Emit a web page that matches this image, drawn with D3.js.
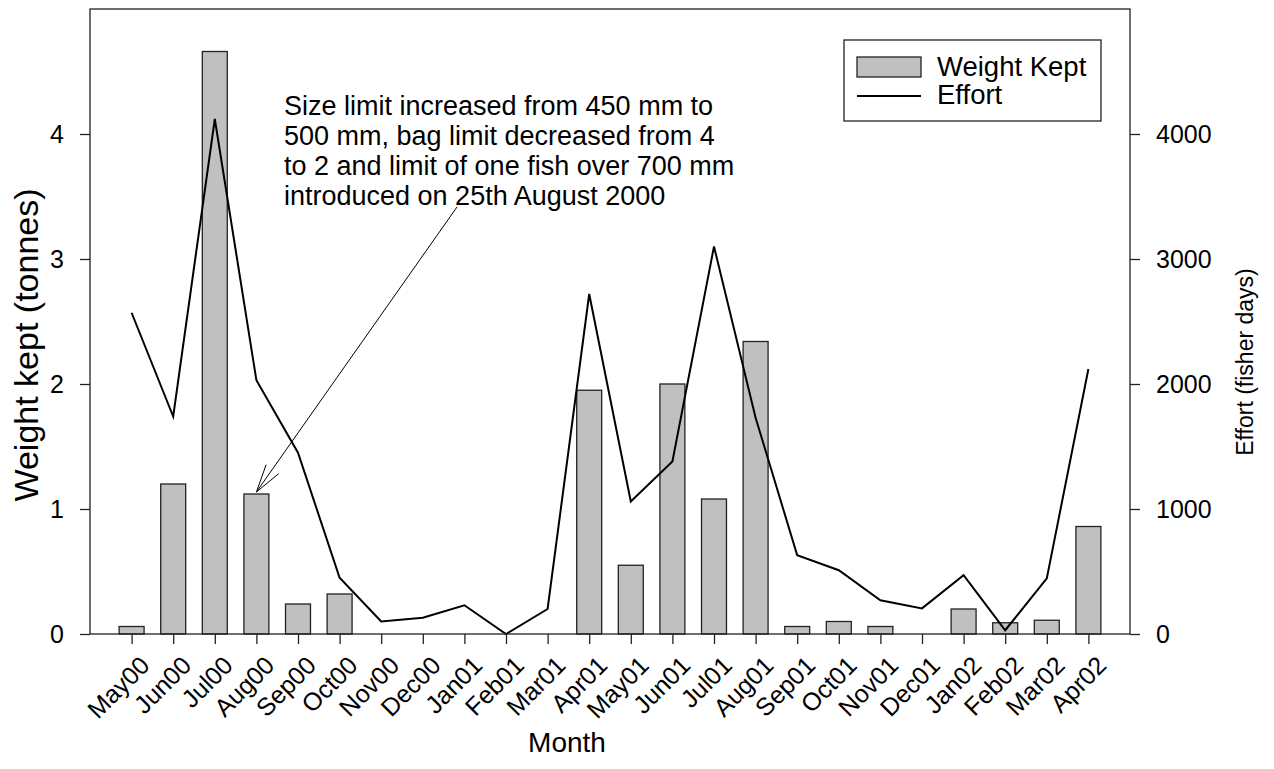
<!DOCTYPE html>
<html>
<head>
<meta charset="utf-8">
<script src="https://cdn.jsdelivr.net/npm/d3@7"></script>
<style>
  html, body { margin: 0; padding: 0; background: #fff; }
  svg { display: block; font-family: "Liberation Sans", Arial, sans-serif; }
</style>
</head>
<body>
<svg id="chart" width="1274" height="769"></svg>
<script>
// Monthly recreational catch and effort, May 2000 – April 2002
const months = ["May00","Jun00","Jul00","Aug00","Sep00","Oct00","Nov00","Dec00","Jan01","Feb01","Mar01","Apr01",
                "May01","Jun01","Jul01","Aug01","Sep01","Oct01","Nov01","Dec01","Jan02","Feb02","Mar02","Apr02"];
// Weight kept (tonnes)
const weightKept = [0.06,1.20,4.66,1.12,0.24,0.32,0,0,0,0,0,1.95,
                    0.55,2.00,1.08,2.34,0.06,0.10,0.06,0,0.20,0.09,0.11,0.86];
// Effort (fisher days)
const effort = [2570,1740,4120,2030,1450,450,100,130,230,0,200,2720,
                1060,1380,3100,1730,630,510,270,205,470,30,445,2120];
const weightTicks = [0,1,2,3,4];
const effortTicks = [0,1000,2000,3000,4000];

const annotationLines = [
  "Size limit increased from 450 mm to",
  "500 mm, bag limit decreased from 4",
  "to 2 and limit of one fish over 700 mm",
  "introduced on 25th August 2000"
];
const annotatedMonth = "Aug00";

const svg = d3.select("#chart");
const plotL = 90, plotR = 1130, plotT = 9, plotB = 634;

const x = d3.scalePoint().domain(months).range([plotL, plotR]).padding(1);
const yW = d3.scaleLinear().domain([0, 5]).range([plotB, plotT]);
const yE = d3.scaleLinear().domain([0, 5000]).range([plotB, plotT]);
const barW = x.step() * 0.6;

// bars
svg.append("g").selectAll("rect")
  .data(months.map((m, i) => ({ m, v: weightKept[i] })).filter(d => d.v > 0))
  .join("rect")
  .attr("x", d => x(d.m) - barW / 2)
  .attr("y", d => yW(d.v))
  .attr("width", barW)
  .attr("height", d => yW(0) - yW(d.v))
  .attr("fill", "#c0c0c0")
  .attr("stroke", "#222")
  .attr("stroke-width", 1.3);

// effort line
svg.append("path")
  .datum(months.map((m, i) => [x(m), yE(effort[i])]))
  .attr("d", d3.line())
  .attr("fill", "none")
  .attr("stroke", "#000")
  .attr("stroke-width", 2);

// frame
svg.append("rect")
  .attr("x", plotL).attr("y", plotT)
  .attr("width", plotR - plotL).attr("height", plotB - plotT)
  .attr("fill", "none").attr("stroke", "#222").attr("stroke-width", 1.3);

// axes
const axisStyle = g => {
  g.select(".domain").remove();
  g.selectAll(".tick line").attr("stroke", "#222").attr("stroke-width", 1.3);
  g.selectAll(".tick text").attr("fill", "#000").style("font-family", "Liberation Sans, Arial, sans-serif");
};

svg.append("g")
  .attr("transform", `translate(${plotL},0)`)
  .call(d3.axisLeft(yW).tickValues(weightTicks).tickFormat(d3.format("d")).tickSize(10).tickPadding(16))
  .call(axisStyle)
  .selectAll(".tick text").style("font-size", "25px");

svg.append("g")
  .attr("transform", `translate(${plotR},0)`)
  .call(d3.axisRight(yE).tickValues(effortTicks).tickFormat(d3.format("d")).tickSize(10).tickPadding(16))
  .call(axisStyle)
  .selectAll(".tick text").style("font-size", "25px");

const xAxis = svg.append("g")
  .attr("transform", `translate(0,${plotB})`)
  .call(d3.axisBottom(x).tickSize(10).tickPadding(6))
  .call(axisStyle);
xAxis.selectAll(".tick text")
  .style("font-size", "25px")
  .attr("text-anchor", "end")
  .attr("dy", null)
  .attr("transform", "translate(6,20) rotate(-45)")
  .attr("x", 0).attr("y", 0)
  .attr("dominant-baseline", "hanging");

// axis titles
svg.append("text")
  .attr("transform", "translate(38,345) rotate(-90)")
  .attr("text-anchor", "middle")
  .style("font-size", "34px")
  .text("Weight kept (tonnes)");

svg.append("text")
  .attr("transform", "translate(1253,362) rotate(-90)")
  .attr("text-anchor", "middle")
  .style("font-size", "23px")
  .text("Effort (fisher days)");

svg.append("text")
  .attr("x", 567).attr("y", 752)
  .attr("text-anchor", "middle")
  .style("font-size", "28px")
  .text("Month");

// legend
const lg = svg.append("g");
lg.append("rect").attr("x", 844).attr("y", 40).attr("width", 257).attr("height", 81)
  .attr("fill", "#fff").attr("stroke", "#222").attr("stroke-width", 1.3);
lg.append("rect").attr("x", 857).attr("y", 57).attr("width", 64).attr("height", 20)
  .attr("fill", "#c0c0c0").attr("stroke", "#222").attr("stroke-width", 1.3);
lg.append("line").attr("x1", 857).attr("x2", 921).attr("y1", 96).attr("y2", 96)
  .attr("stroke", "#000").attr("stroke-width", 2);
lg.append("text").attr("x", 937).attr("y", 76).style("font-size", "27.5px").text("Weight Kept");
lg.append("text").attr("x", 937).attr("y", 104).style("font-size", "27.5px").text("Effort");

// annotation
const ann = svg.append("text").style("font-size", "27px");
annotationLines.forEach((t, i) => {
  ann.append("tspan").attr("x", 284).attr("y", 115 + i * 30).text(t);
});

const tipX = x(annotatedMonth);
const tipY = yW(weightKept[months.indexOf(annotatedMonth)]) - 2;
const startX = 457, startY = 207;
const ang = Math.atan2(startY - tipY, startX - tipX);
const headLen = 29, spread = 15.5 * Math.PI / 180;
svg.append("path")
  .attr("d", `M${startX},${startY}L${tipX},${tipY}` +
    `M${tipX + headLen * Math.cos(ang - spread)},${tipY + headLen * Math.sin(ang - spread)}L${tipX},${tipY}` +
    `L${tipX + headLen * Math.cos(ang + spread)},${tipY + headLen * Math.sin(ang + spread)}`)
  .attr("fill", "none").attr("stroke", "#000").attr("stroke-width", 1);
</script>
</body>
</html>
